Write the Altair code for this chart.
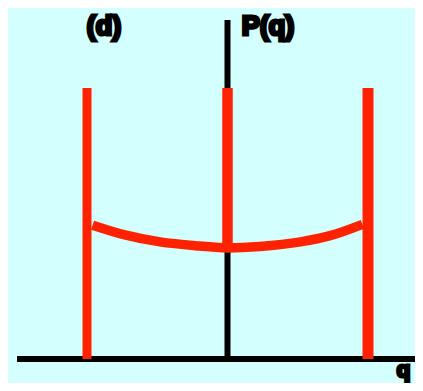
import altair as alt
import pandas as pd

# ---- data ----
# vertical red lines: position q, top, bottom
red_q = [-1.0, 0.0, 1.0]
red_top = [1.0, 1.0, 1.0]
red_bottom = [0.0, 0.41, 0.0]
red_width = [9, 10.5, 11]

# red curve P(q)
curve_q = [-0.96, -0.73, -0.48, -0.20, 0.0, 0.23, 0.52, 0.73, 0.96]
curve_p = [0.494, 0.458, 0.432, 0.417, 0.410, 0.415, 0.432, 0.455, 0.497]

# axis lines
axis_h = {"q": [-1.498], "q2": [1.40], "p": [0.0]}
axis_v = {"q": [0.0], "p": [0.0], "p2": [1.251]}

# labels
lab_text = ["(d)", "P(q)", "q"]
lab_q = [-0.879, 0.289, 1.205]
lab_p = [1.197, 1.197, -0.068]
lab_size = [27, 27, 22]
lab_align = ["center", "center", "left"]

RED = "#FF2200"
BG = "#D4FFFF"

W, H = 407, 375
# pixel mapping: q=0 at svg x 219.5, 140.5 px per unit; p=0 at svg y 351, 271 px per unit
xs = alt.Scale(domain=[-219.5 / 140.5, (W - 219.5) / 140.5], nice=False, zero=False)
ys = alt.Scale(domain=[(351 - H) / 271, 351 / 271], nice=False, zero=False)

red_df = pd.DataFrame({"q": red_q, "top": red_top, "bottom": red_bottom, "w": red_width})
curve_df = pd.DataFrame({"q": curve_q, "p": curve_p})
lab_df = pd.DataFrame({"t": lab_text, "q": lab_q, "p": lab_p, "a": lab_align, "s": lab_size})

h_axis = alt.Chart(pd.DataFrame(axis_h)).mark_rule(color="black", strokeWidth=6).encode(
    x=alt.X("q:Q", scale=xs, axis=None), x2="q2:Q", y=alt.Y("p:Q", scale=ys, axis=None)
)
v_axis = alt.Chart(pd.DataFrame(axis_v)).mark_rule(color="black", strokeWidth=6).encode(
    x=alt.X("q:Q", scale=xs, axis=None), y=alt.Y("p:Q", scale=ys, axis=None), y2="p2:Q"
)
curve = alt.Chart(curve_df).mark_line(color=RED, strokeWidth=9.5, interpolate="monotone").encode(
    x=alt.X("q:Q", scale=xs, axis=None), y=alt.Y("p:Q", scale=ys, axis=None)
)
reds = alt.Chart(red_df).mark_rule(color=RED).encode(
    x=alt.X("q:Q", scale=xs, axis=None),
    y=alt.Y("bottom:Q", scale=ys, axis=None),
    y2="top:Q",
    size=alt.Size("w:Q", scale=None, legend=None),
)

labels = []
for t, a, s in zip(lab_text, lab_align, lab_size):
    labels.append(
        alt.Chart(lab_df[lab_df.t == t]).mark_text(
            font="Liberation Sans", fontSize=s, fontWeight="bold", color="black",
            stroke="black", strokeWidth=3.2, align=a, baseline="alphabetic",
        ).encode(x=alt.X("q:Q", scale=xs, axis=None), y=alt.Y("p:Q", scale=ys, axis=None), text="t:N")
    )

chart = alt.layer(h_axis, v_axis, curve, reds, *labels).properties(
    width=W, height=H, autosize=alt.AutoSizeParams(type="none"), padding=0, background=BG
).configure_view(stroke=None)

chart.save("out.html", embed_options={"renderer": "svg", "actions": False})
